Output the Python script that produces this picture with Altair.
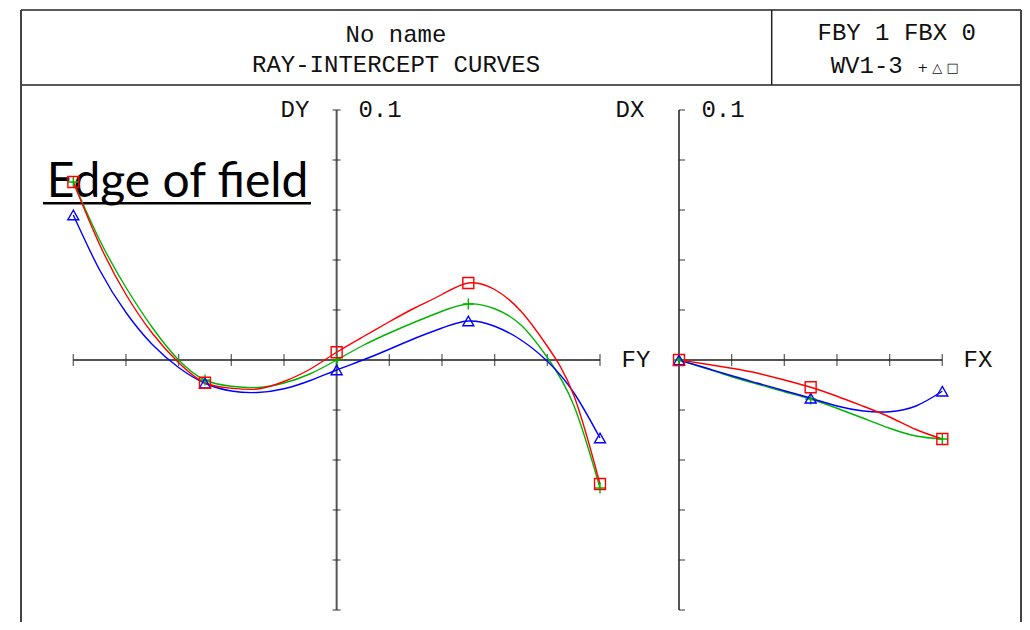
import altair as alt
import pandas as pd

# ---------------- data ----------------
waves = ["WV1", "WV2", "WV3"]
wave_colors = ["#00b400", "#0000ff", "#ff0000"]
wave_shapes = ["M-1,0H1M0,-1V1", "triangle-up", "square"]

# marker positions (ray fan sample points)
fy = [-1.0, -0.5, 0.0, 0.5, 1.0]
dy_wv1 = [0.0712, -0.0080, 0.0000, 0.0224, -0.0512]
dy_wv2 = [0.0580, -0.0093, -0.0040, 0.0156, -0.0312]
dy_wv3 = [0.0712, -0.0091, 0.0031, 0.0308, -0.0496]

fx = [0.0, 0.5, 1.0]
dx_wv1 = [0.0, -0.0156, -0.0316]
dx_wv2 = [0.0, -0.0153, -0.0125]
dx_wv3 = [0.0, -0.0109, -0.0316]

# traced curves, every 0.1 of pupil
fy_curve = [-1.0, -0.9, -0.8, -0.7, -0.6, -0.5, -0.4, -0.3, -0.2, -0.1, 0.0,
            0.1, 0.2, 0.3, 0.4, 0.5, 0.6, 0.7, 0.8, 0.9, 1.0]
dy_curve_wv1 = [0.0712, 0.0480, 0.0290, 0.0130, 0.0000, -0.0080, -0.0105, -0.0110, -0.0092, -0.0055, 0.0000,
                0.0058, 0.0108, 0.0153, 0.0195, 0.0224, 0.0205, 0.0140, 0.0010, -0.0180, -0.0512]
dy_curve_wv2 = [0.0580, 0.0360, 0.0190, 0.0062, -0.0030, -0.0093, -0.0124, -0.0130, -0.0115, -0.0082, -0.0040,
                0.0000, 0.0043, 0.0088, 0.0128, 0.0156, 0.0135, 0.0080, -0.0005, -0.0130, -0.0312]
dy_curve_wv3 = [0.0712, 0.0462, 0.0262, 0.0107, -0.0011, -0.0091, -0.0113, -0.0116, -0.0086, -0.0036, 0.0031,
                0.0093, 0.0153, 0.0210, 0.0262, 0.0308, 0.0282, 0.0195, 0.0055, -0.0140, -0.0496]

fx_curve = [0.0, 0.1, 0.2, 0.3, 0.4, 0.5, 0.6, 0.7, 0.8, 0.9, 1.0]
dx_curve_wv1 = [0.0, -0.0033, -0.0067, -0.0097, -0.0127, -0.0156, -0.0193, -0.0233, -0.0273, -0.0304, -0.0316]
dx_curve_wv2 = [0.0, -0.0031, -0.0063, -0.0093, -0.0123, -0.0153, -0.0184, -0.0204, -0.0207, -0.0184, -0.0125]
dx_curve_wv3 = [0.0, -0.0016, -0.0033, -0.0053, -0.0080, -0.0109, -0.0145, -0.0185, -0.0228, -0.0278, -0.0316]

fy_ticks = [-1.0, -0.8, -0.6, -0.4, -0.2, 0.0, 0.2, 0.4, 0.6, 0.8, 1.0]
fx_ticks = [0.0, 0.2, 0.4, 0.6, 0.8, 1.0]
d_ticks = [-0.1, -0.08, -0.06, -0.04, -0.02, 0.0, 0.02, 0.04, 0.06, 0.08, 0.1]

title_line1 = "No name"
title_line2 = "RAY-INTERCEPT CURVES"
info_line1 = "FBY 1 FBX 0"
info_line2 = "WV1-3"
info_symbols = "+ △ □"
note_text = "Edge of field"


# ---------------- tables ----------------
def long(xs, series):
    return pd.DataFrame({
        "x": [v for _ in series for v in xs],
        "y": [v for s in series for v in s],
        "wave": [w for w in waves for _ in xs],
    })


left_pts = long(fy, [dy_wv1, dy_wv2, dy_wv3])
right_pts = long(fx, [dx_wv1, dx_wv2, dx_wv3])
left_curve = long(fy_curve, [dy_curve_wv1, dy_curve_wv2, dy_curve_wv3])
right_curve = long(fx_curve, [dx_curve_wv1, dx_curve_wv2, dx_curve_wv3])

W, H = 1014, 614
ysc = alt.Scale(domain=[-0.1, 0.1], range=[602, 102], nice=False, zero=False)
xl = alt.Scale(domain=[-1, 1], range=[65.3, 592], nice=False, zero=False)
xr = alt.Scale(domain=[0, 1], range=[671, 934.3], nice=False, zero=False)
col = alt.Color("wave:N", scale=alt.Scale(domain=waves, range=wave_colors), legend=None)
shp = alt.Shape("wave:N", scale=alt.Scale(domain=waves, range=wave_shapes), legend=None)

ZFONT = "Liberation Mono"
one = pd.DataFrame({"a": [0]})


def txt(s, x, y, size=24, font=ZFONT, align="center", baseline="middle", color="#111"):
    return alt.Chart(one).mark_text(text=s, font=font, fontSize=size, align=align,
                                    baseline=baseline, color=color).encode(
        x=alt.value(x), y=alt.value(y))


def rule(x, x2, y, y2, color="#222", w=1.5):
    return alt.Chart(one).mark_rule(color=color, strokeWidth=w).encode(
        x=alt.value(x), x2=alt.value(x2), y=alt.value(y), y2=alt.value(y2))


frame = [
    rule(13, 1013, 2, 2),
    rule(13, 1013, 77, 77),
    rule(763.7, 763.7, 2, 77),
    rule(13, 13, 2, H, color="#444", w=2),
    rule(1013, 1013, 2, H, color="#444", w=2),
]

texts = [
    txt(title_line1, 388, 27),
    txt(title_line2, 388, 57),
    txt(info_line1, 888.7, 25),
    txt(info_line2, 858.7, 58),
    txt(info_symbols, 930, 60, size=13, font="DejaVu Sans"),
    txt("DY", 287, 102),
    txt("0.1", 372, 102),
    txt("FY", 628, 351.5),
    txt("DX", 622, 102),
    txt("0.1", 715, 102),
    txt("FX", 970, 351.5),
    txt(note_text, 38.7, 188.7, size=48, font="Lato", align="left", baseline="alphabetic",
        color="black"),
    rule(35, 303, 195.3, 195.3, color="black", w=2.5),
]


def axes(xs, xmin, xmax, xticks, right=False):
    h = pd.DataFrame({"x": [xmin], "x2": [xmax], "y": [0.0]})
    v = pd.DataFrame({"x": [0.0], "y": [-0.1], "y2": [0.1]})
    ht = pd.DataFrame({"x": xticks, "y": [0.0] * len(xticks)})
    vt = pd.DataFrame({"x": [0.0] * len(d_ticks), "y": d_ticks})
    hl = alt.Chart(h).mark_rule(color="#555", strokeWidth=2).encode(
        x=alt.X("x:Q", scale=xs, axis=None), x2="x2:Q", y=alt.Y("y:Q", scale=ysc, axis=None))
    vl = alt.Chart(v).mark_rule(color="#555", strokeWidth=2).encode(
        x=alt.X("x:Q", scale=xs, axis=None), y=alt.Y("y:Q", scale=ysc, axis=None), y2="y2:Q")
    htm = alt.Chart(ht).mark_tick(orient="vertical", size=12, thickness=1.3, color="#222").encode(
        x=alt.X("x:Q", scale=xs, axis=None), y=alt.Y("y:Q", scale=ysc, axis=None))
    if right:
        vtm = alt.Chart(vt).mark_tick(orient="horizontal", size=6, thickness=1.3, color="#222",
                                      xOffset=3).encode(
            x=alt.X("x:Q", scale=xs, axis=None), y=alt.Y("y:Q", scale=ysc, axis=None))
    else:
        vtm = alt.Chart(vt).mark_tick(orient="horizontal", size=8, thickness=1.3, color="#222").encode(
            x=alt.X("x:Q", scale=xs, axis=None), y=alt.Y("y:Q", scale=ysc, axis=None))
    return [hl, vl, htm, vtm]


def curves(cdf, pdf, xs):
    line = alt.Chart(cdf).mark_line(interpolate="natural", strokeWidth=1.4).encode(
        x=alt.X("x:Q", scale=xs, axis=None), y=alt.Y("y:Q", scale=ysc, axis=None),
        color=col, detail="wave:N")
    pts = alt.Chart(pdf).mark_point(filled=False, strokeWidth=1.4, size=120, opacity=1).encode(
        x=alt.X("x:Q", scale=xs, axis=None), y=alt.Y("y:Q", scale=ysc, axis=None),
        color=col, shape=shp)
    return [line, pts]


layers = frame + texts + axes(xl, -1.0, 1.0, fy_ticks) + axes(xr, 0.0, 1.0, fx_ticks, right=True) \
    + curves(left_curve, left_pts, xl) + curves(right_curve, right_pts, xr)

chart = alt.layer(*layers).resolve_scale(x="independent").properties(
    width=W, height=H, autosize=alt.AutoSizeParams(type="none"), padding=0,
    background="white",
).configure_view(strokeWidth=0)

chart.save("out.html", embed_options={"renderer": "svg", "actions": False})
